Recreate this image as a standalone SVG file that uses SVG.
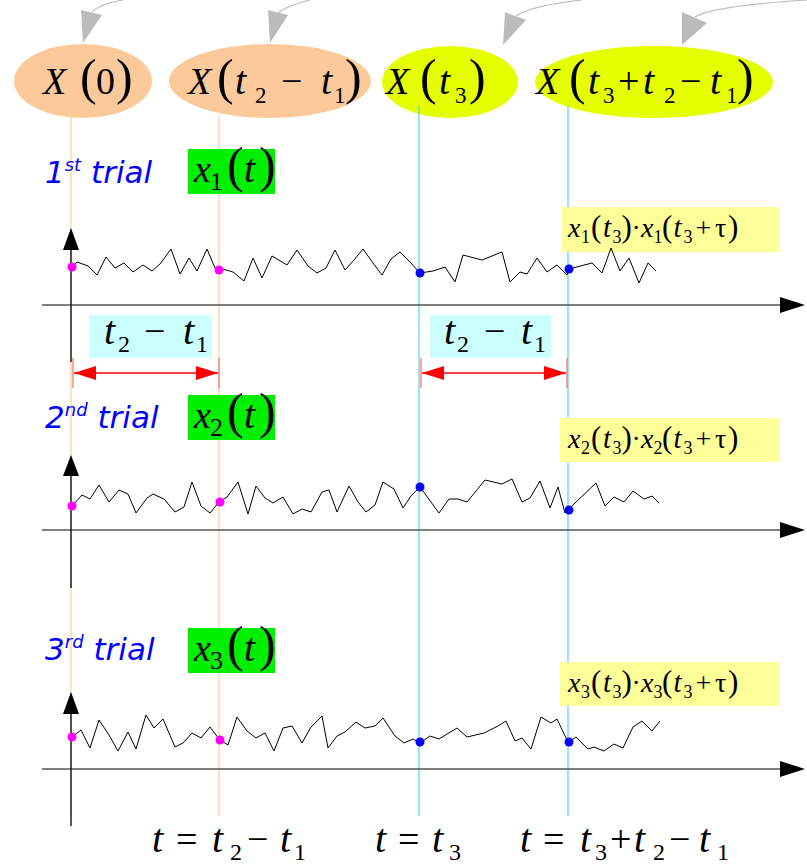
<svg xmlns="http://www.w3.org/2000/svg" width="807" height="864" viewBox="0 0 807 864">
<style>
.m{font-family:"Liberation Serif","DejaVu Serif",serif;fill:#000}
.i{font-style:italic}
.tr{font-family:"DejaVu Sans",sans-serif;font-style:oblique;fill:#0000ff;font-size:31px}
.sig{fill:none;stroke:#000;stroke-width:1}
.guideP{stroke:#ffcc99;stroke-width:1.2}
.guideC{stroke:#55d0ee;stroke-width:1.2}
.ax{stroke:#555;stroke-width:1.6}
.vax{stroke:#111;stroke-width:1.4}
.gr{fill:none;stroke:#bbb;stroke-width:1.2}
.pk{fill:#ff00ff}
.bl{fill:#0000ff}
.red{stroke:#ff0000;stroke-width:1.3}
.tick{stroke:#ff6666;stroke-width:1.2}
</style>
<defs>
<marker id="rh" markerWidth="24" markerHeight="16" refX="22" refY="7" orient="auto" markerUnits="userSpaceOnUse"><path d="M0,0 L22,7 L0,14 Z" fill="#ff0000"/></marker>
<marker id="rt" markerWidth="24" markerHeight="16" refX="0" refY="7" orient="auto" markerUnits="userSpaceOnUse"><path d="M22,0 L0,7 L22,14 Z" fill="#ff0000"/></marker>
</defs>

<g id="arrows-top">
<path class="gr" d="M123,0 Q100,4 92,12"/><path d="M81,10 L102,15 L83,43 Z" fill="#bbb"/>
<path class="gr" d="M310,0 Q287,6 278,13"/><path d="M268,10 L288,15 L270,43 Z" fill="#bbb"/>
<path class="gr" d="M582,0 Q530,6 516,16"/><path d="M505,12 L526,20 L503,45 Z" fill="#bbb"/>
<path class="gr" d="M807,0 Q712,6 695,17"/><path d="M682,12 L707,23 L682,45 Z" fill="#bbb"/>
</g>

<g id="node-X0">
<ellipse cx="83" cy="81" rx="69" ry="37" fill="#fcc99b"/>
<text class="m" y="94"><tspan class="i" x="43" font-size="38">X</tspan><tspan x="80" font-size="50">(</tspan><tspan x="96" font-size="38">0</tspan><tspan x="116" font-size="50">)</tspan></text>
</g>
<g id="node-Xt2t1">
<ellipse cx="270" cy="81" rx="101" ry="37" fill="#fcc99b"/>
<text class="m" y="94"><tspan class="i" x="188" font-size="38">X</tspan><tspan x="217" font-size="50">(</tspan><tspan class="i" x="235" font-size="40">t</tspan><tspan x="255" y="103" font-size="23">2</tspan><tspan x="281" y="94" font-size="38">−</tspan><tspan class="i" x="321" font-size="40">t</tspan><tspan x="334" y="103" font-size="23">1</tspan><tspan x="345" y="94" font-size="50">)</tspan></text>
</g>
<g id="node-Xt3">
<ellipse cx="450" cy="82" rx="68" ry="36" fill="#e5ff00"/>
<text class="m" y="94"><tspan class="i" x="386" font-size="38">X</tspan><tspan x="420" font-size="50">(</tspan><tspan class="i" x="439" font-size="40">t</tspan><tspan x="455" y="103" font-size="23">3</tspan><tspan x="469" y="94" font-size="50">)</tspan></text>
</g>
<g id="node-Xt3t2t1">
<ellipse cx="654" cy="82" rx="119" ry="36" fill="#e5ff00"/>
<text class="m" y="94"><tspan class="i" x="536" font-size="38">X</tspan><tspan x="569" font-size="50">(</tspan><tspan class="i" x="588" font-size="40">t</tspan><tspan x="603" y="103" font-size="23">3</tspan><tspan x="618" y="94" font-size="38">+</tspan><tspan class="i" x="643" font-size="40">t</tspan><tspan x="664" y="103" font-size="23">2</tspan><tspan x="680" y="94" font-size="38">−</tspan><tspan class="i" x="710" font-size="40">t</tspan><tspan x="726" y="103" font-size="23">1</tspan><tspan x="737" y="94" font-size="50">)</tspan></text>
</g>

<g id="guides">
<line class="guideP" x1="71" y1="116" x2="71" y2="816"/>
<line class="guideP" x1="219" y1="116" x2="219" y2="816"/>
<line class="guideC" x1="419" y1="106" x2="419" y2="816"/>
<line class="guideC" x1="568" y1="106" x2="568" y2="816"/>
</g>

<g id="axes">
<line class="ax" x1="42" y1="305" x2="782" y2="305"/><path d="M780,297 L805,305 L780,313 Z" fill="#000"/>
<line class="ax" x1="42" y1="530" x2="782" y2="530"/><path d="M780,522 L805,530 L780,538 Z" fill="#000"/>
<line class="ax" x1="42" y1="769" x2="782" y2="769"/><path d="M780,761 L805,769 L780,777 Z" fill="#000"/>
<line class="vax" x1="71" y1="362" x2="71" y2="248"/><path d="M63,250 L71,228 L79,250 Z" fill="#000"/>
<line class="vax" x1="71" y1="588" x2="71" y2="474"/><path d="M63,476 L71,455 L79,476 Z" fill="#000"/>
<line class="vax" x1="71" y1="826" x2="71" y2="712"/><path d="M63,714 L71,692 L79,714 Z" fill="#000"/>
</g>

<g id="trial-labels">
<text class="tr" x="45" y="183">1<tspan font-size="18" dy="-12">st</tspan><tspan dy="12"> trial</tspan></text>
<text class="tr" x="45" y="428">2<tspan font-size="18" dy="-12">nd</tspan><tspan dy="12"> trial</tspan></text>
<text class="tr" x="45" y="660">3<tspan font-size="18" dy="-12">rd</tspan><tspan dy="12"> trial</tspan></text>
</g>

<g id="node-x1">
<rect x="188" y="149" width="87" height="45" fill="#00ee00"/>
<text class="m" y="182"><tspan class="i" x="194" font-size="38">x</tspan><tspan x="210" y="190" font-size="26">1</tspan><tspan x="227" y="182" font-size="50">(</tspan><tspan class="i" x="244" font-size="40">t</tspan><tspan x="259" font-size="50">)</tspan></text>
</g>
<g id="node-x2">
<rect x="188" y="395" width="87" height="45" fill="#00ee00"/>
<text class="m" y="428"><tspan class="i" x="194" font-size="38">x</tspan><tspan x="210" y="436" font-size="26">2</tspan><tspan x="227" y="428" font-size="50">(</tspan><tspan class="i" x="244" font-size="40">t</tspan><tspan x="259" font-size="50">)</tspan></text>
</g>
<g id="node-x3">
<rect x="188" y="628" width="87" height="45" fill="#00ee00"/>
<text class="m" y="661"><tspan class="i" x="194" font-size="38">x</tspan><tspan x="210" y="669" font-size="26">3</tspan><tspan x="227" y="661" font-size="50">(</tspan><tspan class="i" x="244" font-size="40">t</tspan><tspan x="259" font-size="50">)</tspan></text>
</g>

<g id="node-prod1">
<rect x="562" y="207" width="217" height="45" fill="#ffff99"/>
<text class="m" y="237"><tspan class="i" x="568" font-size="28">x</tspan><tspan x="581" y="243" font-size="18">1</tspan><tspan x="591" y="237" font-size="31">(</tspan><tspan class="i" x="603" font-size="29">t</tspan><tspan x="612.5" y="243" font-size="18">3</tspan><tspan x="621.5" y="237" font-size="31">)</tspan><tspan x="631.5" font-size="28">·</tspan><tspan class="i" x="641" font-size="28">x</tspan><tspan x="653.5" y="243" font-size="18">1</tspan><tspan x="662" y="237" font-size="31">(</tspan><tspan class="i" x="673.5" font-size="29">t</tspan><tspan x="683.5" y="243" font-size="18">3</tspan><tspan x="695.5" y="237" font-size="28">+</tspan><tspan x="715" font-size="28">τ</tspan><tspan x="728" font-size="31">)</tspan></text>
</g>
<g id="node-prod2">
<rect x="560" y="418" width="219" height="44" fill="#ffff99"/>
<text class="m" y="448"><tspan class="i" x="568" font-size="28">x</tspan><tspan x="581" y="454" font-size="18">2</tspan><tspan x="591" y="448" font-size="31">(</tspan><tspan class="i" x="603" font-size="29">t</tspan><tspan x="612.5" y="454" font-size="18">3</tspan><tspan x="621.5" y="448" font-size="31">)</tspan><tspan x="631.5" font-size="28">·</tspan><tspan class="i" x="641" font-size="28">x</tspan><tspan x="653.5" y="454" font-size="18">2</tspan><tspan x="662" y="448" font-size="31">(</tspan><tspan class="i" x="673.5" font-size="29">t</tspan><tspan x="683.5" y="454" font-size="18">3</tspan><tspan x="695.5" y="448" font-size="28">+</tspan><tspan x="715" font-size="28">τ</tspan><tspan x="728" font-size="31">)</tspan></text>
</g>
<g id="node-prod3">
<rect x="560" y="662" width="219" height="44" fill="#ffff99"/>
<text class="m" y="692"><tspan class="i" x="568" font-size="28">x</tspan><tspan x="581" y="698" font-size="18">3</tspan><tspan x="591" y="692" font-size="31">(</tspan><tspan class="i" x="603" font-size="29">t</tspan><tspan x="612.5" y="698" font-size="18">3</tspan><tspan x="621.5" y="692" font-size="31">)</tspan><tspan x="631.5" font-size="28">·</tspan><tspan class="i" x="641" font-size="28">x</tspan><tspan x="653.5" y="698" font-size="18">3</tspan><tspan x="662" y="692" font-size="31">(</tspan><tspan class="i" x="673.5" font-size="29">t</tspan><tspan x="683.5" y="698" font-size="18">3</tspan><tspan x="695.5" y="692" font-size="28">+</tspan><tspan x="715" font-size="28">τ</tspan><tspan x="728" font-size="31">)</tspan></text>
</g>

<g id="signals">
<polyline class="sig" points="71,268 77,262 88,266 97,275 106,257 115,268 124,263 133,272 143,265 152,271 160,264 171,249 180,274 189,258 197,271 207,249 215,268 219,268 233,272 244,281 253,258 262,278 272,256 287,265 297,250 308,266 317,273 326,268 335,250 345,270 354,260 363,249 373,263 382,275 391,259 400,252 410,262 420,273 433,271 445,267 455,282 463,255 482,260 502,252 510,282 520,272 527,274 537,258 547,272 557,265 567,275 569,269 592,263 602,273 611,248 620,271 629,258 639,283 648,263 656,271"/>
<polyline class="sig" points="72,506 82,495 90,499 99,485 109,502 119,490 128,494 136,513 147,498 153,494 164,499 175,512 184,507 192,482 201,506 210,513 219,502 227,497 238,482 248,514 256,486 265,498 273,503 283,497 293,514 302,509 311,512 322,492 329,490 337,512 349,486 358,502 366,512 375,505 383,482 394,489 403,508 411,496 420,487 439,513 449,499 458,499 467,502 485,480 502,484 512,479 522,502 530,498 540,481 550,508 558,487 565,513 569,509 576,502 596,483 605,506 614,497 624,502 633,491 644,499 652,496 659,503"/>
<polyline class="sig" points="72,737 81,730 90,748 99,720 109,735 118,751 128,732 136,749 146,715 154,728 163,719 175,747 183,743 192,733 201,738 210,727 216,735 220,740 228,745 237,717 247,731 256,738 265,733 274,751 283,728 292,726 302,743 311,727 322,716 328,748 337,736 345,732 356,722 365,728 375,726 383,718 395,736 404,743 413,739 420,743 430,736 439,739 457,728 467,737 484,733 498,726 506,721 515,741 522,738 531,749 541,717 551,723 557,719 566,738 569,742 576,737 588,749 594,747 604,751 614,744 623,748 633,727 642,721 652,731 660,721"/>
<circle class="pk" cx="72" cy="267" r="4.5"/><circle class="pk" cx="219" cy="270" r="4.5"/>
<circle class="bl" cx="420" cy="273" r="4.5"/><circle class="bl" cx="569" cy="269" r="4.5"/>
<circle class="pk" cx="72" cy="506" r="4.5"/><circle class="pk" cx="220" cy="502" r="4.5"/>
<circle class="bl" cx="420" cy="487" r="4.5"/><circle class="bl" cx="569" cy="510" r="4.5"/>
<circle class="pk" cx="72" cy="737" r="4.5"/><circle class="pk" cx="220" cy="740" r="4.5"/>
<circle class="bl" cx="420" cy="742" r="4.5"/><circle class="bl" cx="569" cy="742" r="4.5"/>
</g>

<g id="dim-1">
<line class="tick" x1="73" y1="358" x2="73" y2="388"/>
<line class="tick" x1="219" y1="358" x2="219" y2="388"/>
<line class="red" x1="74" y1="373" x2="218" y2="373" marker-start="url(#rt)" marker-end="url(#rh)"/>
<rect x="89" y="315" width="122" height="43" fill="#ccffff"/>
<text class="m" y="344"><tspan class="i" x="104" font-size="40">t</tspan><tspan x="118" y="352" font-size="24">2</tspan><tspan x="144" y="344" font-size="38">−</tspan><tspan class="i" x="183" font-size="40">t</tspan><tspan x="196" y="352" font-size="24">1</tspan></text>
</g>
<g id="dim-2">
<line class="tick" x1="421" y1="358" x2="421" y2="388"/>
<line class="tick" x1="567" y1="358" x2="567" y2="388"/>
<line class="red" x1="422" y1="373" x2="566" y2="373" marker-start="url(#rt)" marker-end="url(#rh)"/>
<rect x="430" y="315" width="121" height="43" fill="#ccffff"/>
<text class="m" y="344"><tspan class="i" x="444" font-size="40">t</tspan><tspan x="457" y="352" font-size="24">2</tspan><tspan x="484" y="344" font-size="38">−</tspan><tspan class="i" x="521" font-size="40">t</tspan><tspan x="534" y="352" font-size="24">1</tspan></text>
</g>

<g id="bottom-labels">
<text class="m" y="852"><tspan class="i" x="152" font-size="40">t</tspan><tspan x="176" font-size="38">=</tspan><tspan class="i" x="212" font-size="40">t</tspan><tspan x="230" y="860" font-size="24">2</tspan><tspan x="247" y="852" font-size="38">−</tspan><tspan class="i" x="280" font-size="40">t</tspan><tspan x="294" y="860" font-size="24">1</tspan></text>
<text class="m" y="852"><tspan class="i" x="375" font-size="40">t</tspan><tspan x="398" font-size="38">=</tspan><tspan class="i" x="432" font-size="40">t</tspan><tspan x="449" y="860" font-size="24">3</tspan></text>
<text class="m" y="852"><tspan class="i" x="520" font-size="40">t</tspan><tspan x="543" font-size="38">=</tspan><tspan class="i" x="580" font-size="40">t</tspan><tspan x="595" y="860" font-size="24">3</tspan><tspan x="610" y="852" font-size="38">+</tspan><tspan class="i" x="634" font-size="40">t</tspan><tspan x="653" y="860" font-size="24">2</tspan><tspan x="669" y="852" font-size="38">−</tspan><tspan class="i" x="699" font-size="40">t</tspan><tspan x="717" y="860" font-size="24">1</tspan></text>
</g>
</svg>
